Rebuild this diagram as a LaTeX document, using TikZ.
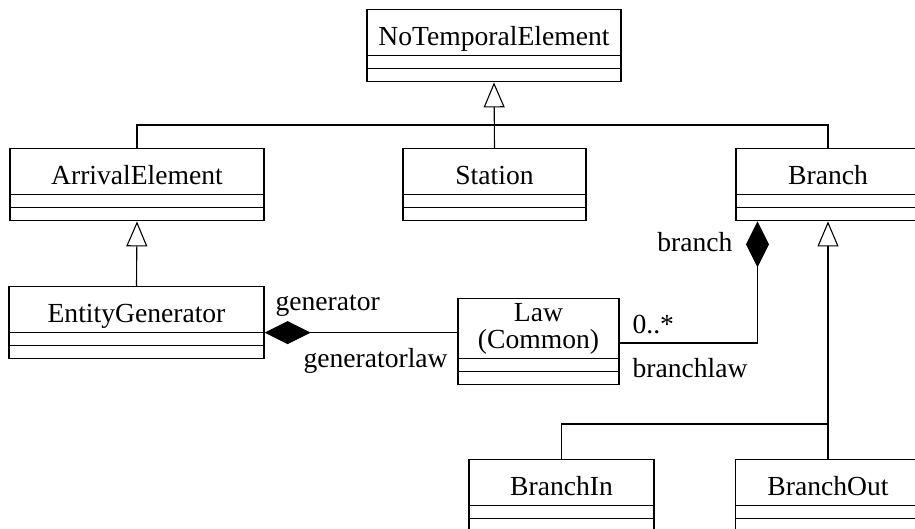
\documentclass[tikz,border=0pt]{standalone}
\usepackage{fontspec}
\setmainfont{Liberation Serif}
\usetikzlibrary{arrows.meta, positioning, shapes.multipart}

\newcommand{\umlclass}[1]{\rule[-10pt]{0pt}{45pt}#1\nodepart{two}\rule{0pt}{12pt}\nodepart{three}\rule{0pt}{12pt}}

\begin{document}
\begin{tikzpicture}[
      x=1pt, y=-1pt,
      line width=1.1pt,
      every node/.style={font=\fontsize{27.6}{26}\selectfont},
      cls/.style={rectangle split, rectangle split parts=3, draw, anchor=north,
        inner xsep=0pt, inner ysep=0pt, minimum width=#1},
      cls/.default=254pt,
      lbl/.style={inner sep=0pt, anchor=base west},
      inherit/.style={-{Triangle[open, length=25pt, width=21pt]}},
      owns/.style={-{Diamond[length=46pt, width=23pt]}}
    ]
      \useasboundingbox (0,0) rectangle (915,529);
      \clip (0,0) rectangle (915,529);

      % classes
      \node[cls] (nte) at (494,9) {\umlclass{NoTemporalElement}};
      \node[cls] (arrival) at (137,148) {\umlclass{ArrivalElement}};
      \node[cls=183pt] (station) at (494.5,148) {\umlclass{Station}};
      \node[cls=184pt] (branch) at (828,148) {\umlclass{Branch}};
      \node[cls=255pt] (entity) at (136.5,286) {\umlclass{EntityGenerator}};
      \node[cls=161pt] (law) at (538.5,298) {\umlclass{\rule[-10pt]{0pt}{59pt}\begin{tabular}[b]{@{}c@{}}Law\\(Common)\end{tabular}}};
      \node[cls=185pt] (branchin) at (561.5,459) {\umlclass{BranchIn}};
      \node[cls=185pt] (branchout) at (828,459) {\umlclass{BranchOut}};

      % generalizations
      \coordinate (top) at (494,125);
      \draw[inherit] (station.north) -- (nte.south);
      \draw (arrival.north) |- (top) -| (branch.north);
      \draw[inherit] (entity.north) -- (arrival.south);
      \draw[inherit] (branchout.north) -- (branch.south);
      \draw (branchin.north) |- ([yshift=35pt]branchout.north);

      % compositions
      \draw[owns] (law.west |- entity.text split east) -- (entity.text split east);
      \draw[owns] ([yshift=-45pt]law.north east) -| ([xshift=22pt]branch.south west);

      % role names
      \node[lbl] (gen) at (275,310) {generator};
      \node[lbl] (genlaw) at (303,367) {generatorlaw};
      \node[lbl, anchor=base east] (brn) at (733,252) {branch};
      \node[lbl] (mult) at (632,333) {0..*};
      \node[lbl] (brnlaw) at (632,377) {branchlaw};
    \end{tikzpicture}
\end{document}
